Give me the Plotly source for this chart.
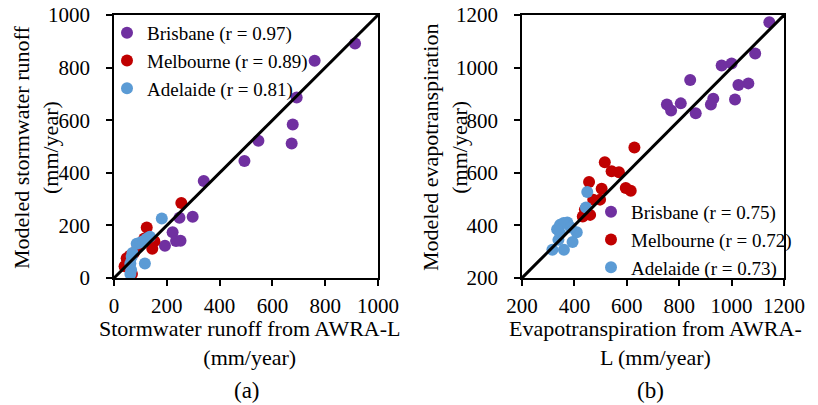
import plotly.graph_objects as go

# ---- data ----
# Panel (a): stormwater runoff (mm/year)
bris_a_x = [913, 760, 692, 677, 673, 547, 494, 340, 298, 248, 222, 235, 252, 193]
bris_a_y = [892, 826, 686, 584, 511, 522, 445, 369, 233, 229, 174, 141, 142, 123]
melb_a_x = [255, 124, 153, 145, 48, 40, 68, 100, 115, 60, 75, 55, 90]
melb_a_y = [285, 192, 140, 111, 75, 45, 15, 130, 150, 85, 95, 60, 120]
adel_a_x = [181, 117, 86, 100, 111, 125, 136, 67, 62, 65, 62, 70, 120]
adel_a_y = [226, 55, 130, 135, 140, 150, 157, 81, 55, 30, 15, 95, 145]

# Panel (b): evapotranspiration (mm/year)
bris_b_x = [1144, 1090, 1064, 1026, 1000, 962, 1013, 930, 921, 842, 863, 806, 753, 769]
bris_b_y = [1172, 1054, 940, 934, 1016, 1008, 879, 882, 860, 953, 826, 864, 860, 837]
melb_b_x = [629, 516, 542, 570, 596, 615, 456, 504, 472, 498, 460, 432, 440]
melb_b_y = [696, 640, 606, 602, 542, 532, 565, 539, 498, 498, 440, 434, 460]
adel_b_x = [449, 444, 316, 360, 393, 409, 339, 345, 345, 373, 359, 386, 334]
adel_b_y = [527, 468, 307, 307, 337, 374, 345, 371, 402, 411, 409, 392, 385]

names_a = ["Brisbane (r = 0.97)", "Melbourne (r = 0.89)", "Adelaide (r = 0.81)"]
names_b = ["Brisbane (r = 0.75)", "Melbourne (r = 0.72)", "Adelaide (r = 0.73)"]
colors = ["#7030A0", "#C00000", "#5B9BD5"]

range_a = [0, 1000]
range_b = [200, 1200]
tickvals_a = [0, 200, 400, 600, 800, 1000]
tickvals_b = [200, 400, 600, 800, 1000, 1200]

FONT = "Liberation Serif"
W, H = 818, 405


def px(x):
    return x / W


def py(y):
    return 1 - y / H


fig = go.Figure()

for (xs, ys), nm, c in zip([(bris_a_x, bris_a_y), (melb_a_x, melb_a_y), (adel_a_x, adel_a_y)], names_a, colors):
    fig.add_trace(go.Scatter(x=xs, y=ys, mode="markers", name=nm,
                             marker=dict(color=c, size=12, line=dict(width=0)),
                             xaxis="x", yaxis="y", legend="legend"))
fig.add_trace(go.Scatter(x=range_a, y=range_a, mode="lines", showlegend=False,
                         line=dict(color="black", width=3), xaxis="x", yaxis="y"))

for (xs, ys), nm, c in zip([(bris_b_x, bris_b_y), (melb_b_x, melb_b_y), (adel_b_x, adel_b_y)], names_b, colors):
    fig.add_trace(go.Scatter(x=xs, y=ys, mode="markers", name=nm,
                             marker=dict(color=c, size=12, line=dict(width=0)),
                             xaxis="x2", yaxis="y2", legend="legend2"))
fig.add_trace(go.Scatter(x=range_b, y=range_b, mode="lines", showlegend=False,
                         line=dict(color="black", width=3), xaxis="x2", yaxis="y2"))

axis_common = dict(showgrid=False, zeroline=False, showline=True, linecolor="black",
                   linewidth=1.5, mirror=True, ticks="outside", ticklen=6, tickwidth=1.5,
                   tickcolor="black", automargin=False, ticklabeloverflow="allow",
                   tickfont=dict(family=FONT, size=21, color="black"))

ydom = [py(278), py(15)]
fig.update_layout(
    width=W, height=H,
    margin=dict(l=0, r=0, t=0, b=0, autoexpand=False),
    paper_bgcolor="white", plot_bgcolor="white",
    font=dict(family=FONT, color="black"),
    xaxis=dict(domain=[px(114), px(378)], range=range_a, tickvals=tickvals_a, anchor="y",
               ticklabelstandoff=2, **axis_common),
    yaxis=dict(domain=ydom, range=range_a, tickvals=tickvals_a, anchor="x", ticklabelstandoff=12, **axis_common),
    xaxis2=dict(domain=[px(522), px(784)], range=range_b, tickvals=tickvals_b, anchor="y2",
                ticklabelstandoff=2, **axis_common),
    yaxis2=dict(domain=ydom, range=range_b, tickvals=tickvals_b, anchor="x2", ticklabelstandoff=12, **axis_common),
    legend=dict(x=px(107), y=py(14), xanchor="left", yanchor="top",
                bgcolor="rgba(0,0,0,0)", font=dict(family=FONT, size=19, color="black"),
                itemsizing="trace", tracegroupgap=0),
    legend2=dict(x=px(591), y=py(193), xanchor="left", yanchor="top",
                 bgcolor="rgba(0,0,0,0)", font=dict(family=FONT, size=19, color="black"),
                 itemsizing="trace", tracegroupgap=0),
    showlegend=True,
)

tf = dict(family=FONT, size=22, color="black")
ann = []
ann.append(dict(text="Modeled stormwater runoff<br>(mm/year)", x=px(36), y=py(148),
                xref="paper", yref="paper", textangle=-90, showarrow=False,
                xanchor="center", yanchor="middle", font=tf))
ann.append(dict(text="Modeled evapotranspiration<br>(mm/year)", x=px(445), y=py(148),
                xref="paper", yref="paper", textangle=-90, showarrow=False,
                xanchor="center", yanchor="middle", font=tf))
ann.append(dict(text="Stormwater runoff from AWRA-L<br>(mm/year)", x=px(250), y=py(343),
                xref="paper", yref="paper", showarrow=False,
                xanchor="center", yanchor="middle", font=tf))
ann.append(dict(text="Evapotranspiration from AWRA-<br>L (mm/year)", x=px(655), y=py(343),
                xref="paper", yref="paper", showarrow=False,
                xanchor="center", yanchor="middle", font=tf))
ann.append(dict(text="(a)", x=px(247), y=py(390), xref="paper", yref="paper", showarrow=False,
                xanchor="center", yanchor="middle", font=dict(family=FONT, size=23, color="black")))
ann.append(dict(text="(b)", x=px(650), y=py(390), xref="paper", yref="paper", showarrow=False,
                xanchor="center", yanchor="middle", font=dict(family=FONT, size=23, color="black")))
fig.update_layout(annotations=ann)

fig.write_html("out.html", config={"displayModeBar": False},
               post_script="document.body.style.margin='0';")
